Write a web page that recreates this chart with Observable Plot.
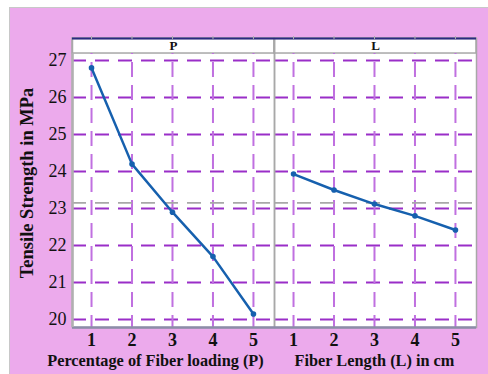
<!DOCTYPE html>
<html><head>
<meta charset="utf-8">
<script src="https://cdn.jsdelivr.net/npm/d3@7"></script>
<script src="https://cdn.jsdelivr.net/npm/@observablehq/plot@0.6"></script>
<style>
body{margin:0;background:#fff;}
#wrap{position:relative;width:488px;height:374px;overflow:hidden;}
#bg{position:absolute;left:9px;top:7px;right:0;bottom:0;background:#ECAAEC;border-left:1px solid #c8c8c8;border-top:1px solid #c8c8c8;}
#chart{position:absolute;left:0;top:0;}
</style></head><body>
<div id="wrap"><div id="bg"></div><div id="chart"></div></div>
<script>
const factors = ["P", "L"];
const levels = [1, 2, 3, 4, 5];
const strengthP = [26.8, 24.2, 22.9, 21.7, 20.15];
const strengthL = [23.93, 23.5, 23.12, 22.8, 22.42];
const yTicks = [20, 21, 22, 23, 24, 25, 26, 27];
const xTitles = ["Percentage of Fiber loading (P)", "Fiber Length (L) in cm"];
const xTitlePos = [2.58, 3];
const yTitle = "Tensile Strength in MPa";

const data = [
  ...levels.map((l, i) => ({factor: "P", level: l, value: strengthP[i]})),
  ...levels.map((l, i) => ({factor: "L", level: l, value: strengthL[i]}))
];
const all = strengthP.concat(strengthL);
const mean = d3.mean(all);

const yMin = 19.784, yStrip = 27.189, yMax = 27.595;
const xMin = 0.53, xMax = 5.52;
const serif = "Liberation Serif, Times New Roman, serif";

const xLabels = factors.flatMap(f => levels.map(l => ({factor: f, level: l})));

const chart = Plot.plot({
  width: 488,
  height: 374,
  marginLeft: 72,
  marginRight: 12,
  marginTop: 38,
  marginBottom: 47,
  style: {background: "transparent", fontFamily: serif, fontSize: "16px", color: "#111"},
  fx: {domain: factors, padding: 0, axis: null},
  x: {domain: [xMin, xMax], axis: null},
  y: {domain: [yMin, yMax], axis: null},
  marks: [
    Plot.rect(factors, {fx: d => d, x1: xMin, x2: xMax, y1: yMin, y2: yMax, fill: "white"}),
    Plot.rect(factors, {fx: d => d, x1: xMin, x2: xMax, y1: yStrip, y2: yMax, fill: "white", stroke: "#a8a8a8", strokeWidth: 1.5}),
    Plot.ruleY(yTicks, {stroke: "#9a2ec8", strokeWidth: 1.8, strokeDasharray: "14,9"}),
    Plot.ruleX(levels, {y1: yMin, y2: yStrip, stroke: "#c070e0", strokeWidth: 2, strokeDasharray: "15,8", strokeDashoffset: 3}),
    Plot.ruleY([mean], {stroke: "#a8a8a8", strokeWidth: 1.6, strokeDasharray: "14,9"}),
    Plot.frame({stroke: "#a8a8a8", strokeWidth: 1.5}),
    Plot.ruleY([yMax], {stroke: "#2a2a80", strokeWidth: 2}),
    Plot.ruleY([yMin], {stroke: "#8c8ca8", strokeWidth: 2.5}),
    Plot.ruleX([xMin], {fx: () => "P", y1: yMin, y2: yStrip, stroke: "#b0b0b0", strokeWidth: 2.5}),
    Plot.text(factors, {fx: d => d, text: d => d, x: (xMin + xMax) / 2, y: (yStrip + yMax) / 2, fontWeight: "bold", fontSize: 13, fill: "#111"}),
    Plot.line(data, {fx: "factor", x: "level", y: "value", stroke: "#1660ae", strokeWidth: 2.5}),
    Plot.dot(data, {fx: "factor", x: "level", y: "value", r: 2.8, fill: "#1660ae"}),
    Plot.axisX({anchor: "top", ticks: levels, tickSize: 3, tickFormat: () => "", stroke: "#b0b0b0", label: null}),
    Plot.text(xLabels, {fx: "factor", x: "level", text: d => String(d.level), frameAnchor: "bottom", lineAnchor: "top", dy: 6, fontWeight: "bold", fontSize: 18, fill: "#111"}),
    Plot.text(yTicks, {fx: () => "P", y: d => d, text: d => String(d), frameAnchor: "left", textAnchor: "end", dx: -6, fontSize: 18, fill: "#111"}),
    Plot.text(factors, {fx: d => d, x: (d, i) => xTitlePos[i], text: (d, i) => xTitles[i], frameAnchor: "bottom", dy: 38, fontWeight: "bold", fontSize: 16.3, fill: "#111"}),
    Plot.text([yTitle], {fx: () => "P", text: d => d, frameAnchor: "left", textAnchor: "middle", dx: -45, rotate: -90, fontWeight: "bold", fontSize: 18.5, fill: "#111"})
  ]
});
document.getElementById("chart").appendChild(chart);
</script>
</body></html>
